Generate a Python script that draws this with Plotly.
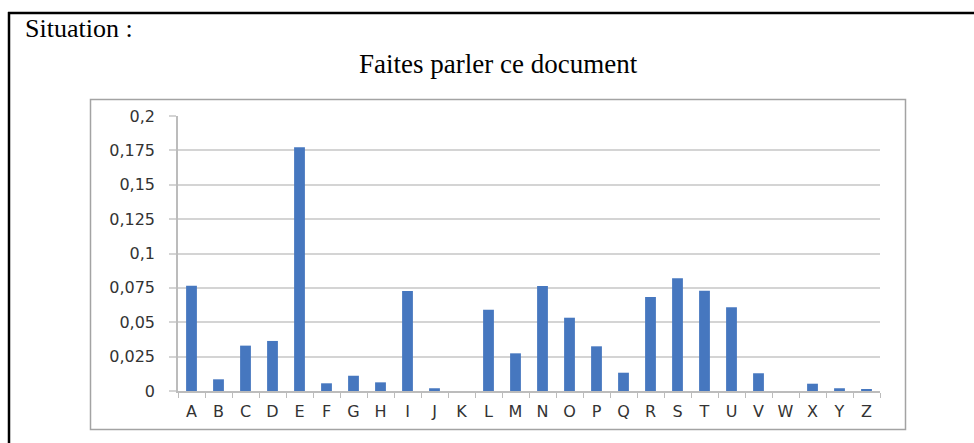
import plotly.graph_objects as go

# ---- data ----
letters = list("ABCDEFGHIJKLMNOPQRSTUVWXYZ")
frequencies = [0.0766, 0.0085, 0.0330, 0.0364, 0.1772, 0.0056, 0.0111, 0.0063,
               0.0727, 0.0020, 0.0000, 0.0591, 0.0274, 0.0764, 0.0533, 0.0325,
               0.0133, 0.0684, 0.0820, 0.0730, 0.0609, 0.0129, 0.0000, 0.0053,
               0.0020, 0.0010]
y_tick_values = [0, 0.025, 0.05, 0.075, 0.1, 0.125, 0.15, 0.175, 0.2]
y_tick_labels = ["0", "0,025", "0,05", "0,075", "0,1", "0,125", "0,15", "0,175", "0,2"]
heading = "Situation :"
title_text = "Faites parler ce document"

# ---- geometry (pixels) ----
W, H = 974, 443
L, R, T, B = 178, 880, 116, 391


def xp(px):
    return (px - L) / (R - L)


def yp(py):
    return (B - py) / (B - T)


fig = go.Figure()
fig.add_trace(go.Bar(
    x=letters, y=frequencies,
    marker=dict(color="#4677bf", line=dict(width=0)),
    hoverinfo="x+y",
))

grid_col = "#d4d4d4"
tick_font = dict(family="DejaVu Sans", size=16, color="#333333")
fig.update_layout(
    width=W, height=H,
    margin=dict(l=L, r=W - R, t=T, b=H - B, pad=0),
    paper_bgcolor="white", plot_bgcolor="white",
    bargap=0.6,
    showlegend=False,
    font=dict(family="DejaVu Sans", size=16, color="#404040"),
    xaxis=dict(
        type="category",
        showline=True, linecolor="#bcbcbc", linewidth=1.5,
        ticks="outside", tickson="boundaries", ticklen=5,
        tickcolor="#bcbcbc", tickwidth=1,
        showgrid=False,
        ticklabelstandoff=5,
        tickfont=tick_font,
        fixedrange=True,
    ),
    yaxis=dict(
        range=[0, 0.2],
        tickvals=y_tick_values, ticktext=y_tick_labels,
        showline=True, linecolor="#bcbcbc", linewidth=1.5,
        ticks="outside", ticklen=7, tickcolor=grid_col, tickwidth=1.5,
        showgrid=True, gridcolor=grid_col, gridwidth=1.5,
        zeroline=False,
        ticklabelstandoff=11,
        tickfont=tick_font,
        fixedrange=True,
    ),
    shapes=[
        # outer document frame (top + left)
        dict(type="line", xref="paper", yref="paper",
             x0=xp(8), x1=xp(974), y0=yp(13), y1=yp(13),
             line=dict(color="black", width=2.5), layer="above"),
        dict(type="line", xref="paper", yref="paper",
             x0=xp(9), x1=xp(9), y0=yp(12), y1=yp(443),
             line=dict(color="black", width=2.5), layer="above"),
        # chart box
        dict(type="rect", xref="paper", yref="paper",
             x0=xp(90.5), x1=xp(905.5), y0=yp(99.5), y1=yp(429.5),
             line=dict(color="#a3a3a3", width=1.5), layer="below"),
    ],
    annotations=[
        dict(text=heading, xref="paper", yref="paper",
             x=xp(23), y=yp(29), xanchor="left", yanchor="middle",
             showarrow=False,
             font=dict(family="Liberation Serif", size=26, color="black")),
        dict(text=title_text, xref="paper", yref="paper",
             x=xp(498), y=yp(64), xanchor="center", yanchor="middle",
             showarrow=False,
             font=dict(family="Liberation Serif", size=27, color="black")),
    ],
)

fig.write_html("out.html", config={"displayModeBar": False},
               post_script="document.body.style.margin='0';")
